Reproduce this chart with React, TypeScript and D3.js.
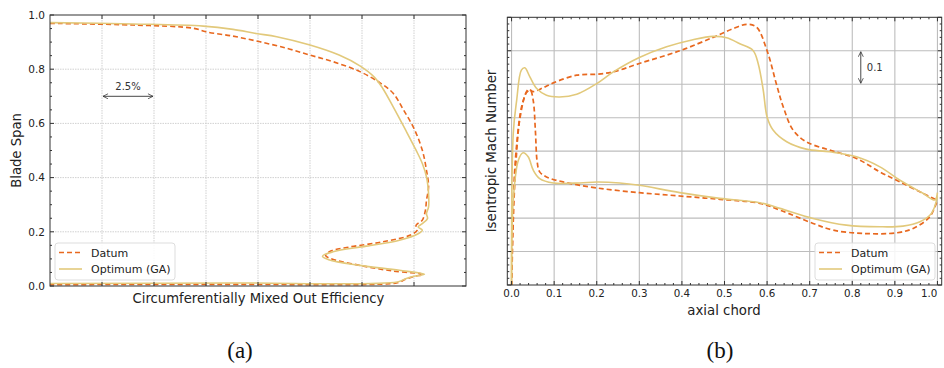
import React from "react";
import * as d3 from "d3";

// ---------- Panel (a): spanwise efficiency ----------
const effTicks = [2.5, 5, 7.5, 10, 12.5, 15, 17.5];
const spanTicks = [0, 0.2, 0.4, 0.6, 0.8, 1.0];
const datumEff = [0, 4.0, 6.9, 7.5, 8.8, 10.1, 11.4, 12.5, 13.6, 14.9, 15.9, 16.5, 17.0, 17.5, 17.9, 18.1, 18.2, 18.1, 18.05, 17.9, 17.6, 17.65, 17.3, 16.0, 14.4, 13.5, 13.25, 13.5, 14.9, 16.5, 17.95, 17.5, 17.1, 16.7, 16.0, 8, 0];
const datumSpan = [0.969, 0.963, 0.951, 0.938, 0.922, 0.901, 0.877, 0.852, 0.828, 0.791, 0.748, 0.711, 0.649, 0.581, 0.501, 0.427, 0.366, 0.316, 0.28, 0.243, 0.224, 0.206, 0.187, 0.163, 0.144, 0.129, 0.113, 0.101, 0.076, 0.055, 0.043, 0.035, 0.025, 0.012, 0.007, 0.006, 0.005];
const optEff = [0, 4.0, 7.37, 8.8, 9.9, 10.9, 12.5, 13.9, 14.9, 15.6, 16.0, 16.5, 17.1, 17.6, 17.9, 18.1, 18.2, 18.2, 18.1, 18.15, 17.9, 17.7, 17.9, 17.7, 16.8, 15.2, 13.6, 13.1, 13.4, 14.9, 16.8, 18.0, 17.5, 17.1, 16.7, 8.8, 0];
const optSpan = [0.972, 0.967, 0.959, 0.947, 0.932, 0.92, 0.889, 0.852, 0.812, 0.77, 0.729, 0.661, 0.575, 0.501, 0.452, 0.403, 0.341, 0.292, 0.267, 0.249, 0.23, 0.218, 0.206, 0.193, 0.169, 0.147, 0.126, 0.11, 0.097, 0.076, 0.058, 0.043, 0.036, 0.027, 0.015, 0.011, 0.009];

// ---------- Panel (b): isentropic Mach number ----------
const chordTicks = [0, 0.1, 0.2, 0.3, 0.4, 0.5, 0.6, 0.7, 0.8, 0.9, 1.0];
const machGrid = [0.3, 0.4, 0.5, 0.6, 0.7, 0.8, 0.9];
const datumSSx = [0.0, 0.004, 0.012, 0.025, 0.04, 0.05, 0.075, 0.098, 0.153, 0.2, 0.239, 0.3, 0.395, 0.473, 0.52, 0.552, 0.575, 0.6, 0.622, 0.638, 0.661, 0.692, 0.747, 0.81, 0.865, 0.912, 0.966, 0.998];
const datumSSm = [0.15, 0.45, 0.62, 0.74, 0.785, 0.778, 0.79, 0.804, 0.827, 0.83, 0.837, 0.862, 0.9, 0.94, 0.966, 0.979, 0.971, 0.9, 0.8, 0.732, 0.663, 0.628, 0.603, 0.578, 0.538, 0.508, 0.474, 0.454];
const datumPSx = [0.0, 0.003, 0.01, 0.02, 0.035, 0.044, 0.051, 0.056, 0.06, 0.066, 0.082, 0.121, 0.2, 0.3, 0.395, 0.489, 0.583, 0.63, 0.708, 0.755, 0.826, 0.904, 0.943, 0.982, 1.0];
const datumPSm = [0.15, 0.35, 0.56, 0.7, 0.775, 0.782, 0.75, 0.66, 0.57, 0.538, 0.523, 0.508, 0.49, 0.476, 0.466, 0.456, 0.444, 0.424, 0.384, 0.364, 0.354, 0.356, 0.369, 0.404, 0.454];
const optSSx = [0.0, 0.004, 0.012, 0.023, 0.031, 0.043, 0.059, 0.082, 0.113, 0.153, 0.2, 0.239, 0.3, 0.364, 0.426, 0.473, 0.505, 0.536, 0.567, 0.579, 0.591, 0.6, 0.614, 0.646, 0.692, 0.747, 0.81, 0.865, 0.912, 0.966, 0.994, 1.0];
const optSSm = [0.12, 0.653, 0.752, 0.842, 0.849, 0.822, 0.787, 0.767, 0.762, 0.77, 0.802, 0.837, 0.88, 0.912, 0.933, 0.943, 0.939, 0.921, 0.901, 0.862, 0.782, 0.702, 0.663, 0.628, 0.606, 0.598, 0.583, 0.553, 0.513, 0.474, 0.454, 0.476];
const optPSx = [0.0, 0.004, 0.016, 0.027, 0.039, 0.051, 0.066, 0.098, 0.16, 0.2, 0.254, 0.3, 0.395, 0.489, 0.583, 0.63, 0.708, 0.786, 0.865, 0.919, 0.959, 0.986, 1.0];
const optPSm = [0.12, 0.454, 0.573, 0.595, 0.583, 0.543, 0.518, 0.505, 0.505, 0.508, 0.505, 0.498, 0.476, 0.459, 0.446, 0.429, 0.399, 0.379, 0.374, 0.376, 0.389, 0.414, 0.464];

const seriesNames = ["Datum", "Optimum (GA)"];
const DATUM = "#E8681F";
const OPT = "#E2C97B";
const FONT = "'DejaVu Sans', sans-serif";

const zip = (xs: number[], ys: number[]) => xs.map((x, i) => [x, ys[i]] as [number, number]);

function Legend({ x, y }: { x: number; y: number }) {
  return (
    <g transform={`translate(${x},${y})`}>
      <rect x={0} y={0} width={120} height={37} rx={3} fill="white" fillOpacity={0.85} stroke="#dddddd" />
      <line x1={4} x2={27} y1={9.5} y2={9.5} stroke={DATUM} strokeWidth={1.6} strokeDasharray="5,3" />
      <text x={36} y={13.5} fontSize={11} fontFamily={FONT} fill="#222">{seriesNames[0]}</text>
      <line x1={4} x2={27} y1={26} y2={26} stroke={OPT} strokeWidth={1.6} />
      <text x={36} y={30} fontSize={11} fontFamily={FONT} fill="#222">{seriesNames[1]}</text>
    </g>
  );
}

function PanelA() {
  const L = 50, R = 466, T = 15, B = 286;
  const x = d3.scaleLinear().domain([0, 20]).range([L, R]);
  const y = d3.scaleLinear().domain([0, 1]).range([B, T]);
  const line = d3.line<[number, number]>().x(d => x(d[0])).y(d => y(d[1])).curve(d3.curveCatmullRom.alpha(0.5));
  const minorY = d3.range(0, 1.0001, 0.05).map(v => +v.toFixed(2));
  return (
    <g>
      <defs>
        <clipPath id="clipA"><rect x={L} y={T} width={R - L} height={B - T} /></clipPath>
        <marker id="arrA" viewBox="0 0 10 10" refX={9} refY={5} markerWidth={7} markerHeight={7} orient="auto-start-reverse">
          <path d="M1,1 L9,5 L1,9" fill="none" stroke="#333" strokeWidth={1.2} />
        </marker>
      </defs>
      <rect x={L} y={T} width={R - L} height={B - T} fill="white" />
      {effTicks.map(t => (
        <line key={"gx" + t} x1={x(t)} x2={x(t)} y1={T} y2={B} stroke="#cccccc" strokeWidth={0.9} strokeDasharray="1.5,1" />
      ))}
      {spanTicks.slice(1, -1).map(t => (
        <line key={"gy" + t} x1={L} x2={R} y1={y(t)} y2={y(t)} stroke="#cccccc" strokeWidth={0.9} strokeDasharray="1.5,1" />
      ))}
      <g clipPath="url(#clipA)">
        <path d={line(zip(datumEff, datumSpan)) || ""} fill="none" stroke={DATUM} strokeWidth={1.6} strokeDasharray="5,3" />
        <path d={line(zip(optEff, optSpan)) || ""} fill="none" stroke={OPT} strokeWidth={1.6} />
      </g>
      {minorY.map(t => {
        const major = spanTicks.some(s => Math.abs(s - t) < 1e-6);
        const len = major ? 4 : 2;
        return (
          <g key={"ty" + t}>
            <line x1={L} x2={L + len} y1={y(t)} y2={y(t)} stroke="#333" />
            <line x1={R} x2={R - len} y1={y(t)} y2={y(t)} stroke="#333" />
          </g>
        );
      })}
      {effTicks.map(t => (
        <g key={"tx" + t}>
          <line x1={x(t)} x2={x(t)} y1={B} y2={B - 4} stroke="#333" />
          <line x1={x(t)} x2={x(t)} y1={T} y2={T + 4} stroke="#333" />
        </g>
      ))}
      <rect x={L} y={T} width={R - L} height={B - T} fill="none" stroke="#333" strokeWidth={1} />
      {spanTicks.map(t => (
        <text key={"ly" + t} x={L - 5} y={y(t) + 3.8} textAnchor="end" fontSize={10.5} fontFamily={FONT} fill="#222">{t.toFixed(1)}</text>
      ))}
      <text x={(L + R) / 2 + 0.5} y={302.5} textAnchor="middle" fontSize={13.2} fontFamily={FONT} fill="#222">Circumferentially Mixed Out Efficiency</text>
      <text transform={`translate(21,${(T + B) / 2}) rotate(-90)`} textAnchor="middle" fontSize={13.2} fontFamily={FONT} fill="#222">Blade Span</text>
      <line x1={x(2.5) + 1} x2={x(5) - 1} y1={y(0.7)} y2={y(0.7)} stroke="#333" strokeWidth={0.9} markerStart="url(#arrA)" markerEnd="url(#arrA)" />
      <text x={(x(2.5) + x(5)) / 2} y={y(0.7) - 6} textAnchor="middle" fontSize={10} fontFamily={FONT} fill="#333">2.5%</text>
      <Legend x={55} y={243} />
    </g>
  );
}

function PanelB() {
  const L = 507.3, R = 941.7, T = 17.3, B = 285;
  const x = d3.scaleLinear().domain([-0.01, 1.01]).range([L, R]);
  const y = d3.scaleLinear().domain([0.2, 1.0]).range([B, T]);
  const line = d3.line<[number, number]>().x(d => x(d[0])).y(d => y(d[1])).curve(d3.curveCatmullRom.alpha(0.5));
  const minorX = d3.range(0, 51).map(i => i * 0.02).filter(v => x(v) <= R);
  const minorY = d3.range(0, 41).map(i => 0.2 + i * 0.02);
  return (
    <g>
      <defs>
        <clipPath id="clipB"><rect x={L} y={T} width={R - L} height={B - T} /></clipPath>
        <marker id="arrB" viewBox="0 0 10 10" refX={9} refY={5} markerWidth={7} markerHeight={7} orient="auto-start-reverse">
          <path d="M1,1 L9,5 L1,9" fill="none" stroke="#333" strokeWidth={1.2} />
        </marker>
      </defs>
      <rect x={L} y={T} width={R - L} height={B - T} fill="white" />
      {chordTicks.map(t => (
        <line key={"gx" + t} x1={x(t)} x2={x(t)} y1={T} y2={B} stroke="#bdbdbd" strokeWidth={1.1} />
      ))}
      {machGrid.map(t => (
        <line key={"gy" + t} x1={L} x2={R} y1={y(t)} y2={y(t)} stroke="#bdbdbd" strokeWidth={1.1} />
      ))}
      <g clipPath="url(#clipB)">
        <path d={line(zip(datumSSx, datumSSm)) || ""} fill="none" stroke={DATUM} strokeWidth={1.7} strokeDasharray="5,3" />
        <path d={line(zip(datumPSx, datumPSm)) || ""} fill="none" stroke={DATUM} strokeWidth={1.7} strokeDasharray="5,3" />
        <path d={line(zip(optSSx, optSSm)) || ""} fill="none" stroke={OPT} strokeWidth={1.6} />
        <path d={line(zip(optPSx, optPSm)) || ""} fill="none" stroke={OPT} strokeWidth={1.6} />
      </g>
      {minorX.map((t, i) => {
        const len = i % 5 === 0 ? 4 : 2;
        return (
          <g key={"tx" + i}>
            <line x1={x(t)} x2={x(t)} y1={B} y2={B - len} stroke="#333" />
            <line x1={x(t)} x2={x(t)} y1={T} y2={T + len} stroke="#333" />
          </g>
        );
      })}
      {minorY.map((t, i) => {
        const len = i % 5 === 0 ? 4 : 2;
        return (
          <g key={"ty" + i}>
            <line x1={L} x2={L + len} y1={y(t)} y2={y(t)} stroke="#333" />
            <line x1={R} x2={R - len} y1={y(t)} y2={y(t)} stroke="#333" />
          </g>
        );
      })}
      <rect x={L} y={T} width={R - L} height={B - T} fill="none" stroke="#333" strokeWidth={1} />
      {chordTicks.map(t => (
        <text key={"lx" + t} x={Math.min(x(t), 943)} y={297} textAnchor={x(t) > 930 ? "end" : "middle"} dx={x(t) > 930 ? 0 : 0} fontSize={10.3} fontFamily={FONT} fill="#222">{t.toFixed(1)}</text>
      ))}
      <text x={724} y={314.5} textAnchor="middle" fontSize={13.3} fontFamily={FONT} fill="#222">axial chord</text>
      <text transform={`translate(496,151) rotate(-90)`} textAnchor="middle" fontSize={13.3} fontFamily={FONT} fill="#222">Isentropic Mach Number</text>
      <line x1={x(0.82)} x2={x(0.82)} y1={y(0.9) + 1} y2={y(0.8) - 1} stroke="#333" strokeWidth={0.9} markerStart="url(#arrB)" markerEnd="url(#arrB)" />
      <text x={x(0.82) + 6} y={y(0.85) + 3.5} fontSize={10} fontFamily={FONT} fill="#333">0.1</text>
      <Legend x={815} y={243} />
    </g>
  );
}

export default function App() {
  return (
    <svg width={944} height={368} style={{ position: "absolute", left: 0, top: 0, background: "white" }}>
      <rect x={0} y={0} width={944} height={368} fill="white" />
      <PanelA />
      <PanelB />
      <text x={240} y={358} textAnchor="middle" fontSize={23} fontFamily="'Liberation Serif', serif" fill="#111">(a)</text>
      <text x={720} y={358} textAnchor="middle" fontSize={23} fontFamily="'Liberation Serif', serif" fill="#111">(b)</text>
    </svg>
  );
}
